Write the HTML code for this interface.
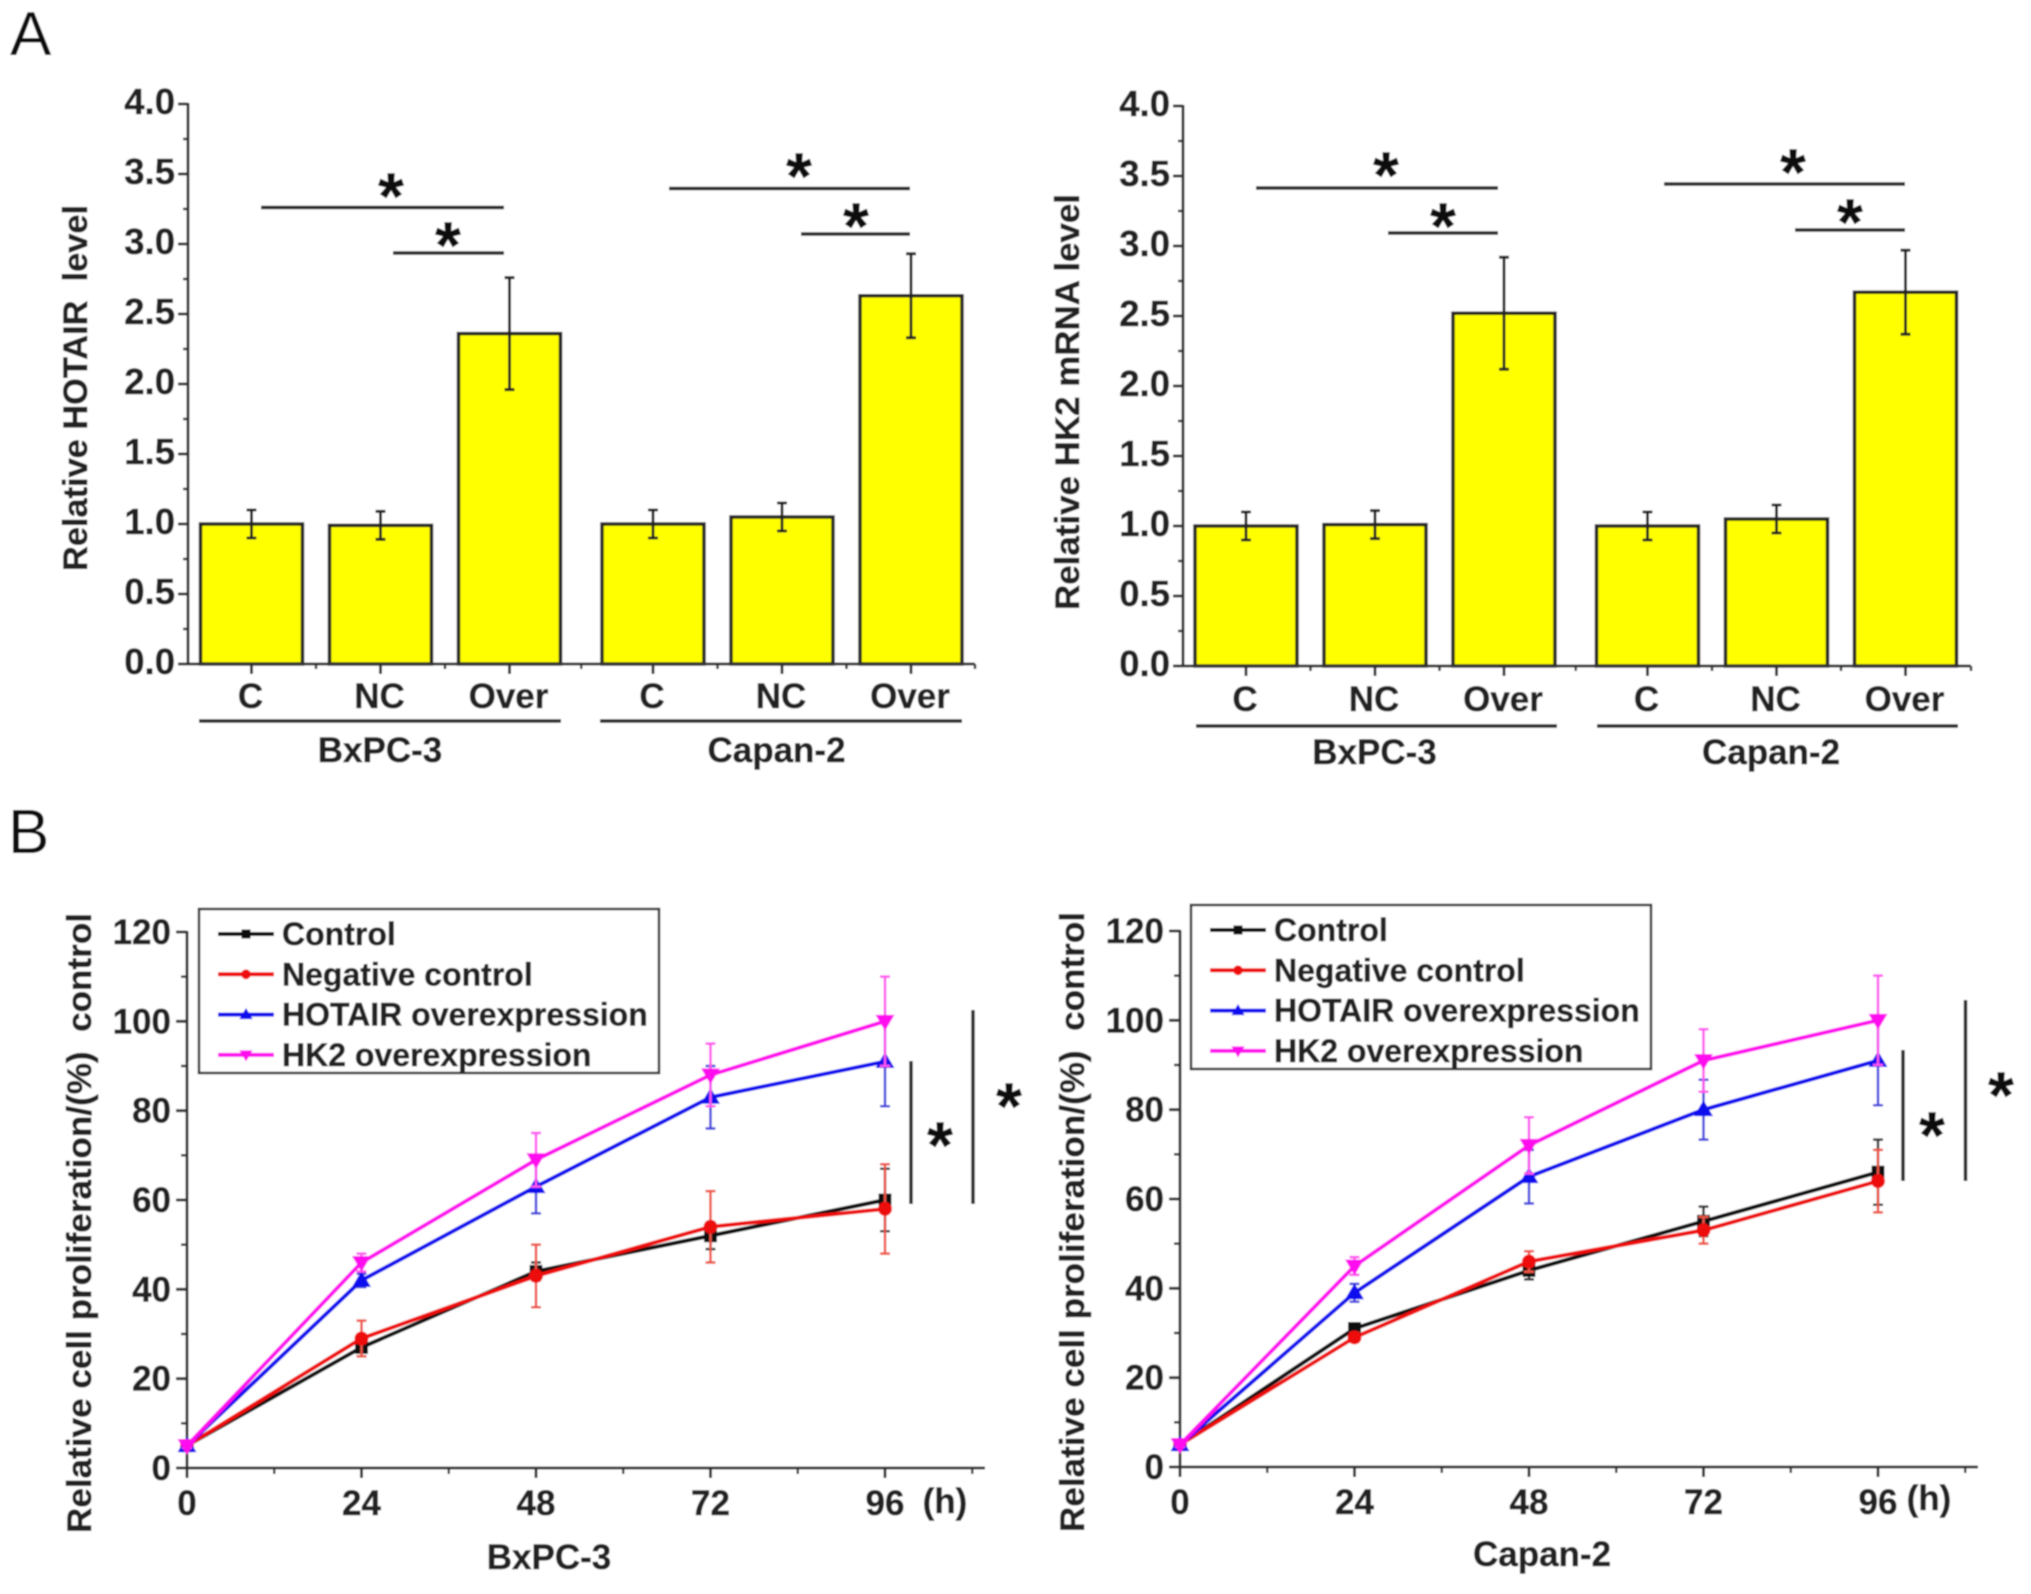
<!DOCTYPE html>
<html lang="en">
<head>
<meta charset="utf-8">
<title>HOTAIR and HK2 expression and cell proliferation</title>
<style>
html,body{margin:0;padding:0;background:#fff;}
svg{display:block;}
text{font-family:"Liberation Sans",Arial,sans-serif;font-weight:700;fill:#222;stroke:#222;stroke-width:0.5px;}
.panel{font-weight:400;font-size:62px;fill:#111;stroke:none;}
.title{font-size:34px;white-space:pre;}
.group{font-size:35px;text-anchor:middle;}
.star{font-size:66px;text-anchor:middle;fill:#111;}
.sig{stroke:#222;stroke-width:3.5;fill:none;}
</style>
</head>
<body>
<svg id="fig" xmlns="http://www.w3.org/2000/svg" width="2031" height="1594" viewBox="0 0 2031 1594">
<defs><filter id="soft" x="-2%" y="-2%" width="104%" height="104%"><feGaussianBlur stdDeviation="0.7"/></filter></defs>
<g id="root" filter="url(#soft)">
<rect width="2031" height="1594" fill="#fff"/>
<text class="panel" x="10" y="55">A</text>
<text class="panel" x="8" y="853">B</text>

<text class="title" transform="translate(87,388) rotate(-90)" text-anchor="middle" textLength="366" lengthAdjust="spacingAndGlyphs">Relative HOTAIR  level</text>
<text class="title" transform="translate(1079,402) rotate(-90)" text-anchor="middle" textLength="416" lengthAdjust="spacingAndGlyphs">Relative HK2 mRNA level</text>
<text class="title" transform="translate(91,1223) rotate(-90)" text-anchor="middle" textLength="620" lengthAdjust="spacingAndGlyphs">Relative cell proliferation/(%)  control</text>
<text class="title" transform="translate(1084,1222) rotate(-90)" text-anchor="middle" textLength="620" lengthAdjust="spacingAndGlyphs">Relative cell proliferation/(%)  control</text>

<line class="sig" x1="261" y1="207.5" x2="504" y2="207.5"/>
<text class="star" x="391" y="219">*</text>
<line class="sig" x1="393" y1="253" x2="504" y2="253"/>
<text class="star" x="448" y="268">*</text>
<line class="sig" x1="669" y1="188.5" x2="910" y2="188.5"/>
<text class="star" x="799" y="199">*</text>
<line class="sig" x1="801" y1="234" x2="910" y2="234"/>
<text class="star" x="856" y="249">*</text>

<line class="sig" x1="1256" y1="188" x2="1498" y2="188"/>
<text class="star" x="1386" y="198">*</text>
<line class="sig" x1="1388" y1="233" x2="1498" y2="233"/>
<text class="star" x="1443" y="249">*</text>
<line class="sig" x1="1664" y1="184" x2="1905" y2="184"/>
<text class="star" x="1793" y="195">*</text>
<line class="sig" x1="1795" y1="230" x2="1905" y2="230"/>
<text class="star" x="1850" y="245">*</text>

<line class="sig" x1="911" y1="1061" x2="911" y2="1204"/>
<text class="star" x="940" y="1168">*</text>
<line class="sig" x1="973" y1="1010" x2="973" y2="1204"/>
<text class="star" x="1009" y="1129">*</text>
<line class="sig" x1="1903" y1="1050" x2="1903" y2="1181"/>
<text class="star" x="1932" y="1158">*</text>
<line class="sig" x1="1965.5" y1="1000" x2="1965.5" y2="1181"/>
<text class="star" x="2001" y="1118">*</text>

<text class="group" x="380" y="762">BxPC-3</text>
<text class="group" x="776.5" y="762">Capan-2</text>
<text class="group" x="1374.5" y="764">BxPC-3</text>
<text class="group" x="1771" y="764">Capan-2</text>
<text class="group" x="549" y="1569">BxPC-3</text>
<text class="group" x="1542" y="1566">Capan-2</text>
<text class="group" x="945" y="1513">(h)</text>
<text class="group" x="1929" y="1510">(h)</text>

<line class="sig" x1="199" y1="721" x2="561" y2="721"/>
<line class="sig" x1="600" y1="721" x2="962" y2="721"/>
<line class="sig" x1="1196" y1="726" x2="1557" y2="726"/>
<line class="sig" x1="1597" y1="726" x2="1958" y2="726"/>
</g>
</svg>
<script>
// ---- Bar chart data ----
const barCategories = ['C', 'NC', 'Over', 'C', 'NC', 'Over'];
const barTicks = [0, 0.5, 1, 1.5, 2, 2.5, 3, 3.5, 4];
const barTickLabels = ['0.0', '0.5', '1.0', '1.5', '2.0', '2.5', '3.0', '3.5', '4.0'];
const hotairValues = [1.0, 0.99, 2.36, 1.0, 1.05, 2.63];
const hotairErrors = [0.1, 0.1, 0.4, 0.1, 0.1, 0.3];
const hk2Values = [1.0, 1.01, 2.52, 1.0, 1.05, 2.67];
const hk2Errors = [0.1, 0.1, 0.4, 0.1, 0.1, 0.3];

// ---- Line chart data ----
const hours = [0, 24, 48, 72, 96];
const lineTicks = [0, 20, 40, 60, 80, 100, 120];
const bxControl = [5, 27, 44, 52, 60];
const bxControlErr = [0.5, 1, 2, 3, 7];
const bxNegative = [5, 29, 43, 54, 58];
const bxNegativeErr = [0.5, 4, 7, 8, 10];
const bxHotair = [5, 42, 63, 83, 91];
const bxHotairErr = [0.5, 1.5, 6, 7, 10];
const bxHk2 = [5, 46, 69, 88, 100];
const bxHk2Err = [0.5, 2, 6, 7, 10];
const caControl = [5, 31, 44, 55, 66];
const caControlErr = [0.5, 1, 2, 3.3, 7.3];
const caNegative = [5, 29, 46, 53, 64];
const caNegativeErr = [0.5, 1, 2.3, 3, 7];
const caHotair = [5, 39, 65, 80, 91];
const caHotairErr = [0.5, 2, 6, 6.7, 10];
const caHk2 = [5, 45, 72, 91, 100];
const caHk2Err = [0.5, 2, 6.3, 7, 10];
const seriesNames = ['Control', 'Negative control', 'HOTAIR overexpression', 'HK2 overexpression'];

const NS = 'http://www.w3.org/2000/svg';
const root = document.getElementById('root');

function mk(tag, attrs, parent) {
  const el = document.createElementNS(NS, tag);
  for (const k in attrs) el.setAttribute(k, attrs[k]);
  parent.appendChild(el);
  return el;
}

function drawBarChart(prefix, values, errors, box) {
  const g = mk('g', {}, root);
  
  
  const yScale = v => box.y0 - (v / 4) * (box.y0 - box.y4);
  const xScale = i => box.first + i * box.step + (i >= 3 ? box.gap : 0);
  const axisColor = '#333';

  values.forEach((v, i) => {
    const bar = mk('rect', {x: xScale(i) - 51, y: yScale(v), width: 102, height: box.y0 - yScale(v), fill: '#ffff00', stroke: '#222', 'stroke-width': 3.5}, g);
    
    
    const hi = yScale(v + errors[i]);
    const lo = yScale(v - errors[i]);
    const err = mk('path', {d: `M${xScale(i) - 5} ${hi}H${xScale(i) + 5}M${xScale(i)} ${hi}V${lo}M${xScale(i) - 5} ${lo}H${xScale(i) + 5}`, stroke: '#222', 'stroke-width': 3, fill: 'none'}, g);
    
    
    const cat = mk('text', {x: xScale(i) - 1, y: box.labelY, 'text-anchor': 'middle', 'font-size': 35}, g);
    cat.textContent = barCategories[i];
    
    
    const tick = mk('line', {x1: xScale(i), x2: xScale(i), y1: box.y0, y2: box.y0 + 10, stroke: axisColor, 'stroke-width': 3}, g);
    
    
    const mx = i < 5 ? (xScale(i) + xScale(i + 1)) / 2 : box.xEnd;
    const minor = mk('line', {x1: mx, x2: mx, y1: box.y0, y2: box.y0 + 5, stroke: axisColor, 'stroke-width': 2.5}, g);
    
    
  });

  const yAxis = mk('line', {x1: box.x, x2: box.x, y1: box.y4 - 1, y2: box.y0 + 1, stroke: axisColor, 'stroke-width': 3}, g);
  
  
  const xAxis = mk('line', {x1: box.x, x2: box.xEnd, y1: box.y0, y2: box.y0, stroke: axisColor, 'stroke-width': 3}, g);
  
  

  barTicks.forEach((t, i) => {
    const tick = mk('line', {x1: box.x - 10, x2: box.x, y1: yScale(t), y2: yScale(t), stroke: axisColor, 'stroke-width': 3}, g);
    
    
    const label = mk('text', {x: box.x - 13, y: yScale(t) + 10, 'text-anchor': 'end', 'font-size': 36.5}, g);
    label.textContent = barTickLabels[i];
    
    
    if (i < barTicks.length - 1) {
      const my = yScale(t + 0.25);
      const minor = mk('line', {x1: box.x - 5, x2: box.x, y1: my, y2: my, stroke: axisColor, 'stroke-width': 2.5}, g);
      
      
    }
  });
}

function marker(type, x, y, color, parent) {
  const s = 6.5;
  if (type === 0) return mk('rect', {x: x - s, y: y - s, width: 2 * s, height: 2 * s, fill: color}, parent);
  if (type === 1) return mk('circle', {cx: x, cy: y, r: s + 0.5, fill: color}, parent);
  if (type === 2) return mk('path', {d: `M${x} ${y - s - 3}L${x + s + 3} ${y + s}H${x - s - 3}Z`, fill: color}, parent);
  return mk('path', {d: `M${x} ${y + s + 3}L${x + s + 3} ${y - s}H${x - s - 3}Z`, fill: color}, parent);
}

function drawLineChart(prefix, series, errors, box) {
  const colors = ['#111111', '#ee1111', '#1111ee', '#ff11ee'];
  const errColors = ['#333333', '#ee5544', '#4444dd', '#ff55ee'];
  const g = mk('g', {}, root);
  
  
  const yScale = v => box.y0 - (v / 120) * (box.y0 - box.y120);
  const xScale = h => box.x + (h / 24) * box.step;
  const axisColor = '#333';

  // axes
  const yAxis = mk('line', {x1: box.x, x2: box.x, y1: box.y120 - 1, y2: box.y0 + 1, stroke: axisColor, 'stroke-width': 3}, g);
  
  
  const xAxis = mk('line', {x1: box.x, x2: box.xEnd, y1: box.y0, y2: box.y0, stroke: axisColor, 'stroke-width': 3}, g);
  
  

  lineTicks.forEach((t, i) => {
    const tick = mk('line', {x1: box.x - 11, x2: box.x, y1: yScale(t), y2: yScale(t), stroke: axisColor, 'stroke-width': 3}, g);
    
    
    const label = mk('text', {x: box.x - 16, y: yScale(t) + 12, 'text-anchor': 'end', 'font-size': 35}, g);
    label.textContent = String(t);
    
    
    if (i < lineTicks.length - 1) {
      const my = yScale(t + 10);
      const minor = mk('line', {x1: box.x - 6, x2: box.x, y1: my, y2: my, stroke: axisColor, 'stroke-width': 2.5}, g);
      
      
    }
  });

  hours.forEach((h, i) => {
    const tick = mk('line', {x1: xScale(h), x2: xScale(h), y1: box.y0, y2: box.y0 + 10, stroke: axisColor, 'stroke-width': 3}, g);
    
    
    const label = mk('text', {x: xScale(h), y: box.y0 + 47, 'text-anchor': 'middle', 'font-size': 35}, g);
    label.textContent = String(h);
    
    
    const minor = mk('line', {x1: xScale(h + 12), x2: xScale(h + 12), y1: box.y0, y2: box.y0 + 6, stroke: axisColor, 'stroke-width': 2.5}, g);
    
    
  });

  // series
  series.forEach((vals, s) => {
    const sg = mk('g', {}, g);
    
    
    vals.forEach((v, i) => {
      const x = xScale(hours[i]);
      const hi = yScale(v + errors[s][i]);
      const lo = yScale(v - errors[s][i]);
      const err = mk('path', {d: `M${x - 5} ${hi}H${x + 5}M${x} ${hi}V${lo}M${x - 5} ${lo}H${x + 5}`, stroke: errColors[s], 'stroke-width': 2.5, fill: 'none'}, sg);
      
      
    });
    const pts = vals.map((v, i) => xScale(hours[i]) + ',' + yScale(v)).join(' ');
    const line = mk('polyline', {points: pts, fill: 'none', stroke: colors[s], 'stroke-width': 4}, sg);
    
    
    vals.forEach((v, i) => {
      const m = marker(s, xScale(hours[i]), yScale(v), colors[s], sg);
      
      
    });
  });

  // legend
  const lg = mk('g', {}, g);
  
  
  const frame = mk('rect', {x: box.lx, y: box.ly, width: box.lw, height: box.lh, fill: '#fff', stroke: '#333', 'stroke-width': 2.5}, lg);
  
  
  seriesNames.forEach((name, s) => {
    const ey = box.ly + 25 + s * 40.3;
    const sw = mk('line', {x1: box.lx + 19, x2: box.lx + 75, y1: ey, y2: ey, stroke: colors[s], 'stroke-width': 4}, lg);
    
    
    const m = marker(s, box.lx + 47, ey, colors[s], lg);
    m.setAttribute('transform', `translate(${box.lx + 47} ${ey}) scale(0.7) translate(${-(box.lx + 47)} ${-ey})`);
    
    
    const t = mk('text', {x: box.lx + 83, y: ey + 11, 'font-size': 32}, lg);
    t.textContent = name;
    
    
  });
}

drawBarChart('hotair', hotairValues, hotairErrors, {x: 188, xEnd: 975, y0: 664, y4: 104, first: 251.5, step: 129, gap: 14.5, labelY: 708});
drawBarChart('hk2', hk2Values, hk2Errors, {x: 1183, xEnd: 1971, y0: 666, y4: 106, first: 1246, step: 129, gap: 14.5, labelY: 711});
drawLineChart('bxpc3', [bxControl, bxNegative, bxHotair, bxHk2], [bxControlErr, bxNegativeErr, bxHotairErr, bxHk2Err], {x: 187, xEnd: 985, y0: 1468, y120: 932, step: 174.5, lx: 199, ly: 909, lw: 460, lh: 164});
drawLineChart('capan2', [caControl, caNegative, caHotair, caHk2], [caControlErr, caNegativeErr, caHotairErr, caHk2Err], {x: 1180, xEnd: 1978, y0: 1467, y120: 931, step: 174.5, lx: 1191, ly: 905, lw: 460, lh: 164});
</script>
</body>
</html>
